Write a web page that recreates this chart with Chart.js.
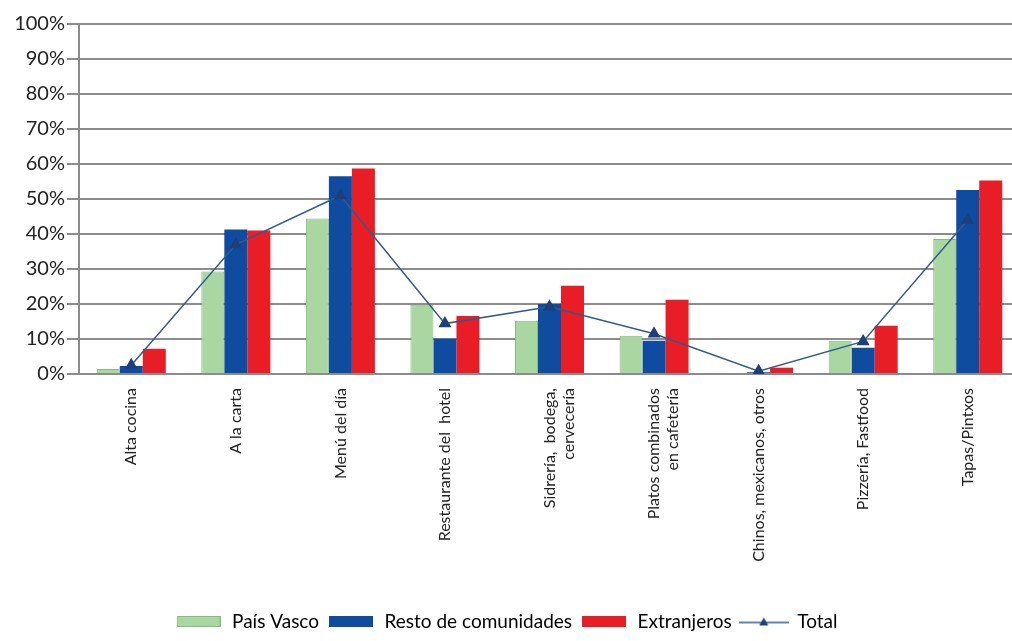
<!DOCTYPE html>
<html>
<head>
<meta charset="utf-8">
<script src="https://cdn.jsdelivr.net/npm/chart.js@4"></script>
<style>
  html, body { margin: 0; padding: 0; background: #fff; }
  #wrap { width: 1012px; height: 641px; }
</style>
</head>
<body>
<div id="wrap"><canvas id="myChart" width="1012" height="641"></canvas></div>
<script>
const categories = [
  "Alta cocina",
  "A la carta",
  "Menú del día",
  "Restaurante del  hotel",
  ["Sidrería,  bodega,", "cervecería"],
  ["Platos combinados", "en cafetería"],
  "Chinos, mexicanos, otros",
  "Pizzería, Fastfood",
  "Tapas/Pintxos",
];
const paisVasco = [1.4, 29.3, 44.4, 19.8, 15.2, 10.9, 0.3, 9.5, 38.6];
const restoComunidades = [2.3, 41.3, 56.5, 10.1, 20.0, 9.5, 0.5, 7.5, 52.6];
const extranjeros = [7.2, 41.0, 58.7, 16.6, 25.2, 21.2, 1.8, 13.8, 55.3];
const total = [2.5, 37, 51, 14.4, 19.2, 11.5, 0.8, 9.3, 44];
const yTicks = [0, 10, 20, 30, 40, 50, 60, 70, 80, 90, 100];

const green = "#a9d6a1";
const blue = "#0f4b9f";
const red = "#e81d25";
const navy = "#1d3f7c";

// small canvases used as legend symbols
function boxIcon(fill, stroke) {
  const c = document.createElement("canvas");
  c.width = 44;
  c.height = 11;
  const g = c.getContext("2d");
  g.fillStyle = fill;
  g.fillRect(0, 0, 44, 11);
  if (stroke) {
    g.strokeStyle = stroke;
    g.strokeRect(0.5, 0.5, 43, 10);
  }
  return c;
}

function lineIcon() {
  const c = document.createElement("canvas");
  c.width = 50;
  c.height = 12;
  const g = c.getContext("2d");
  g.strokeStyle = "#335b8a";
  g.lineWidth = 1.5;
  g.beginPath();
  g.moveTo(0, 7);
  g.lineTo(50, 7);
  g.stroke();
  g.fillStyle = navy;
  g.beginPath();
  g.moveTo(25, 2);
  g.lineTo(29.5, 10);
  g.lineTo(20.5, 10);
  g.closePath();
  g.fill();
  return c;
}

const icons = [boxIcon(green, "#84bd7d"), boxIcon(blue), boxIcon(red), lineIcon()];

// the category axis in the original runs a little past the right edge
const stretchX = {
  id: "stretchX",
  afterLayout(chart) {
    chart.chartArea.right = 1012;
    chart.chartArea.width = chart.chartArea.right - chart.chartArea.left;
    const x = chart.scales.x;
    x.right = 1020;
    x.width = x.right - x.left;
    x.configure();
  },
};

document.addEventListener("DOMContentLoaded", chart);

function chart() {
  const ctx = document.getElementById("myChart");
  Chart.defaults.font.family = "Lato, 'Open Sans', sans-serif";
  Chart.defaults.color = "#222";

  new Chart(ctx, {
    type: "bar",
    plugins: [stretchX],
    data: {
      labels: categories,
      datasets: [
        {
          label: "País Vasco",
          data: paisVasco,
          backgroundColor: green,
          borderColor: "#84bd7d",
          borderWidth: 1,
          order: 1,
        },
        {
          label: "Resto de comunidades",
          data: restoComunidades,
          backgroundColor: blue,
          order: 1,
        },
        {
          label: "Extranjeros",
          data: extranjeros,
          backgroundColor: red,
          order: 1,
        },
        {
          type: "line",
          label: "Total",
          data: total,
          borderColor: "#335b8a",
          borderWidth: 1.5,
          pointStyle: "triangle",
          pointRadius: 6,
          pointBackgroundColor: navy,
          pointBorderColor: navy,
          tension: 0,
          order: 0,
        },
      ],
    },
    options: {
      responsive: false,
      animation: false,
      layout: { padding: { top: 24, right: 0, left: 0, bottom: 0 } },
      datasets: {
        bar: { categoryPercentage: 0.66, barPercentage: 1 },
      },
      plugins: {
        tooltip: { enabled: false },
        legend: {
          position: "bottom",
          labels: {
            usePointStyle: true,
            pointStyleWidth: 48,
            padding: 8,
            font: { size: 19 },
            color: "#222",
            generateLabels: (chart) =>
              chart.data.datasets.map((ds, i) => ({
                text: ds.label,
                pointStyle: icons[i],
                fillStyle: "transparent",
                strokeStyle: "transparent",
                lineWidth: 0,
                datasetIndex: i,
              })),
          },
        },
      },
      scales: {
        x: {
          grid: { display: false },
          border: { display: false },
          ticks: {
            minRotation: 90,
            maxRotation: 90,
            autoSkip: false,
            padding: 6,
            font: { size: 16 },
            color: "#222",
          },
          afterFit: (s) => {
            s.height = 230;
          },
        },
        y: {
          min: 0,
          max: 100,
          afterBuildTicks: (s) => {
            s.ticks = yTicks.map((v) => ({ value: v }));
          },
          grid: {
            color: "#8c8c8c",
            lineWidth: 2,
            tickLength: 12,
          },
          border: { color: "#8c8c8c", width: 2 },
          ticks: {
            padding: 2,
            font: { size: 20 },
            color: "#222",
            callback: (v) => v + "%",
          },
          afterFit: (s) => {
            s.width = 79;
          },
        },
      },
    },
  });
}
</script>
</body>
</html>
